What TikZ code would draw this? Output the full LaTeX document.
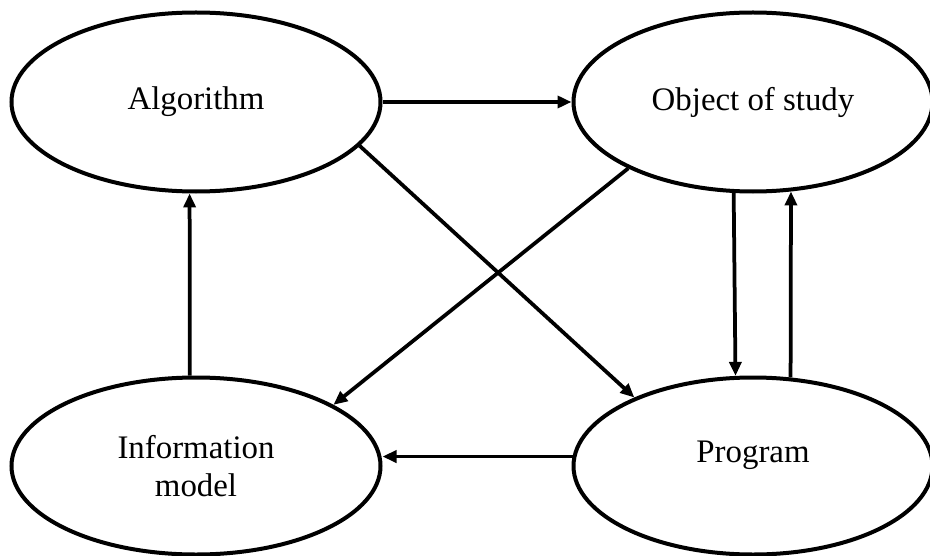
\documentclass[tikz,border=0pt]{standalone}
\usepackage{fontspec}
\setmainfont{Liberation Serif}
\usetikzlibrary{shapes.geometric, arrows.meta}

\begin{document}
\begin{tikzpicture}[
        blob/.style={draw, ellipse, line width=0.08cm, inner sep=0pt, align=center,
            font=\fontsize{18.7}{21.6}\selectfont},
        link/.style={-{Triangle[length=0.28cm, width=0.24cm]}, line width=0.075cm}
    ]

        \useasboundingbox (0,0) rectangle (18.6,-11.12);

        % Top row
        \node[blob, minimum width=7.38cm, minimum height=3.58cm] (alg) at (3.92,-2.04) {Algorithm};
        \node[blob, minimum width=7.18cm, minimum height=3.58cm] (obj) at (15.06,-2.04) {Object of study};

        % Bottom row
        \node[blob, minimum width=7.38cm, minimum height=3.54cm] (info) at (3.92,-9.32) {Information\\model};
        \node[blob, minimum width=7.18cm, minimum height=3.54cm,
            label={[yshift=0.22cm, font=\fontsize{18.7}{21.6}\selectfont]center:Program}] (prog) at (15.06,-9.32) {};

        % Arrows
        \draw[link] (alg.east) -- (obj.west);
        \draw[link] (alg.-15.5) -- (prog.150);
        \draw[link] (obj.208) -- (info.24);
        \draw[link] (obj.258.5) -- (prog.101.5);
        \draw[link] (prog.67.8) -- (obj.-67.8);
        \draw[link] (prog.177.4) -- (prog.177.4 -| info.east);
        \draw[link] (info.94) -- (alg.266);

    \end{tikzpicture}
\end{document}
